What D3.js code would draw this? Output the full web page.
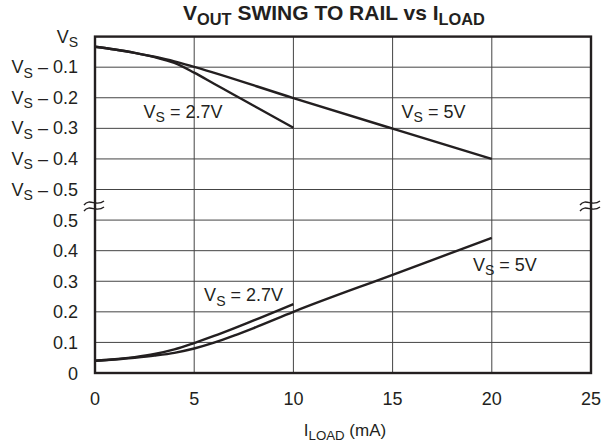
<!DOCTYPE html>
<html><head><meta charset="utf-8">
<script src="https://cdn.jsdelivr.net/npm/d3@7"></script>
<style>body{margin:0;background:#fff}svg{display:block}text{font-family:"Liberation Sans",Arial,sans-serif;fill:#231f20}</style>
</head><body>
<svg id="c" width="601" height="443"></svg>
<script>
// ---- data ----
const xTicks = [0, 5, 10, 15, 20, 25];
// y-axis tick labels, bottom to top (index positions 0..11; break between 0.5 and VS - 0.5)
const yTickMain = ["0", "0.1", "0.2", "0.3", "0.4", "0.5", "0.5", "0.4", "0.3", "0.2", "0.1", ""];
const yTickIsRail = [false, false, false, false, false, false, true, true, true, true, true, true];
// swing from the positive rail (V below VS)
const highLoad27 = [0, 1, 2, 3, 4, 5, 6, 7, 8, 9, 10];
const highDrop27 = [0.033, 0.042, 0.053, 0.067, 0.086, 0.118, 0.154, 0.190, 0.226, 0.262, 0.298];
const highLoad5 = [0, 1, 2, 3, 4, 5, 10, 15, 20];
const highDrop5 = [0.033, 0.042, 0.053, 0.066, 0.081, 0.099, 0.201, 0.301, 0.400];
// swing from ground (V above 0)
const lowLoad27 = [0, 1, 2, 3, 4, 5, 6, 7, 8, 9, 10];
const lowV27 = [0.040, 0.045, 0.052, 0.062, 0.077, 0.098, 0.121, 0.146, 0.172, 0.198, 0.225];
const lowLoad5 = [0, 1, 2, 3, 4, 5, 6, 7, 8, 10, 15, 20];
const lowV5 = [0.040, 0.044, 0.050, 0.057, 0.066, 0.080, 0.099, 0.122, 0.147, 0.200, 0.321, 0.442];

// ---- layout ----
const svg = d3.select("#c");
const L = 95, R = 591, T = 36.6, B = 373;
const x = d3.scaleLinear().domain([0, 25]).range([L, R]);
const y = d3.scaleLinear().domain([0, 11]).range([B, T]);
const yHigh = d => y(11 - d * 10);
const yLow = v => y(v * 10);
const ink = "#231f20";

// grid
const g = svg.append("g");
g.selectAll(".hg").data(d3.range(1, 11)).join("line")
  .attr("x1", L).attr("x2", R).attr("y1", d => y(d)).attr("y2", d => y(d))
  .attr("stroke", "#444").attr("stroke-width", 1);
g.selectAll(".vg").data(xTicks.slice(1, -1)).join("line")
  .attr("x1", d => x(d)).attr("x2", d => x(d)).attr("y1", T).attr("y2", B)
  .attr("stroke", "#444").attr("stroke-width", 1);

// curves
const mk = (xs, ys, fy) => d3.line().x((d, i) => x(xs[i])).y((d, i) => fy(ys[i])).curve(d3.curveMonotoneX)(xs);
[[highLoad27, highDrop27, yHigh], [highLoad5, highDrop5, yHigh], [lowLoad27, lowV27, yLow], [lowLoad5, lowV5, yLow]]
  .forEach(([xs, ys, f]) => svg.append("path").attr("d", mk(xs, ys, f))
    .attr("fill", "none").attr("stroke", ink).attr("stroke-width", 2.4).attr("stroke-linejoin", "round"));

// frame
svg.append("rect").attr("x", L).attr("y", T).attr("width", R - L).attr("height", B - T)
  .attr("fill", "none").attr("stroke", ink).attr("stroke-width", 2.4);

// break marks
const brk = "M-10,1.5 C-4,-6 2,4 10,-2.5";
[L, R].forEach(px => [203.5, 209.5].forEach(py =>
  svg.append("path").attr("d", brk).attr("transform", `translate(${px - 1},${py})`)
    .attr("fill", "none").attr("stroke", ink).attr("stroke-width", 1.4)));

// subscripted text helper
function sub(xp, yp, parts, size, anchor, weight, ratio) {
  const r = ratio || 0.78;
  const t = svg.append("text").attr("x", xp).attr("y", yp).attr("font-size", size)
    .attr("text-anchor", anchor || "start").attr("font-weight", weight || "normal");
  let last = false;
  parts.forEach(([s, isSub]) => {
    const sp = t.append("tspan").text(s);
    if (isSub) sp.attr("font-size", size * r).attr("dy", size * 0.25);
    else if (last) sp.attr("dy", -size * 0.25);
    last = !!isSub;
  });
  return t;
}

// y tick labels
const fs = 18;
yTickMain.forEach((lab, i) => {
  if (yTickIsRail[i]) {
    const parts = [["V"], ["S", 1]];
    if (lab) parts.push([" \u2013 " + lab]);
    sub(78, y(i) + 6, parts, fs, "end");
  } else {
    svg.append("text").attr("x", 78).attr("y", y(i) + 6.5).attr("text-anchor", "end").attr("font-size", fs).text(lab);
  }
});

// x tick labels
svg.selectAll(".xt").data(xTicks).join("text")
  .attr("x", d => x(d)).attr("y", 404.5).attr("text-anchor", "middle").attr("font-size", fs).text(d => d);

// title
sub(334, 20, [["V"], ["OUT", 1], [" SWING TO RAIL vs I"], ["LOAD", 1]], 21, "middle", "bold");
// x axis title
sub(345, 436, [["I"], ["LOAD", 1], [" (mA)"]], 17, "middle");

// curve labels
sub(x(2.45), yHigh(0.265), [["V"], ["S", 1], [" = 2.7V"]], 18);
sub(x(15.45), yHigh(0.265), [["V"], ["S", 1], [" = 5V"]], 18);
sub(x(5.5), yLow(0.235), [["V"], ["S", 1], [" = 2.7V"]], 18);
sub(x(19.05), yLow(0.335), [["V"], ["S", 1], [" = 5V"]], 18);
</script>
</body></html>
